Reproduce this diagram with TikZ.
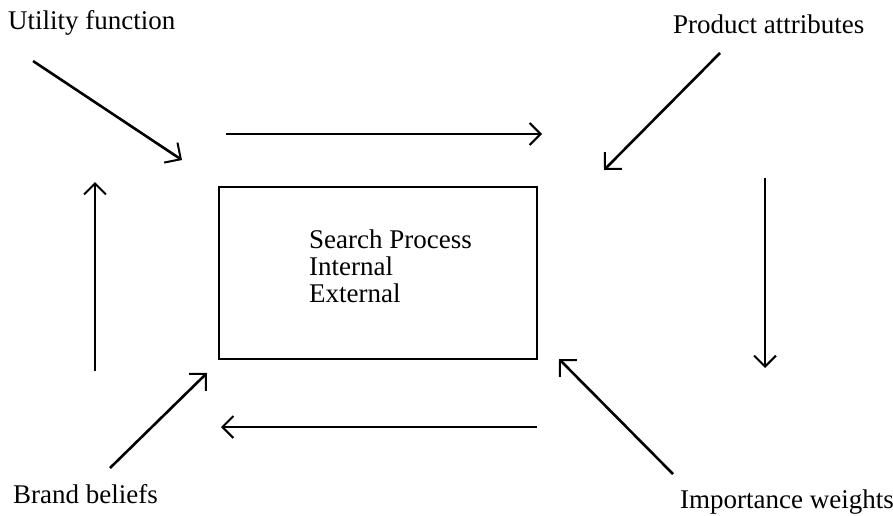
\documentclass[tikz,border=0pt]{standalone}
\usepackage{fontspec}
\setmainfont{Liberation Serif}
\usetikzlibrary{arrows.meta}
\begin{document}
\begin{tikzpicture}[x=1pt,y=-1pt,
  lbl/.style={inner sep=0pt,anchor=base west,font=\fontsize{27}{30}\selectfont},
  conn/.style={line width=2.6pt,-{Straight Barb[length=12pt,width=24pt,line width=2pt]}},
  straightconn/.style={line width=2pt,-{Straight Barb[length=11pt,width=22pt,line width=2pt]}}]
\useasboundingbox (0,0) rectangle (893,515);
\node[lbl] (uf) at (8,29) {Utility function};
\node[lbl] (pa) at (673,33) {Product attributes};
\node[lbl] (bb) at (13,503) {Brand beliefs};
\node[lbl] (iw) at (680,508) {Importance weights};
\node[draw,line width=2pt,minimum width=318pt,minimum height=172pt,anchor=north west,inner sep=0pt] (box) at (218,186) {};
\node[lbl] (sp) at (309,248) {Search Process};
\node[lbl] (in) at (309,275) {Internal};
\node[lbl] (ex) at (309,302) {External};
\coordinate (a1s) at (33,61);  \coordinate (a1e) at (182,160);
\coordinate (a2s) at (226,134); \coordinate (a2e) at (542,134);
\coordinate (a3s) at (720,53);  \coordinate (a3e) at (604,170);
\coordinate (a4s) at (765,178); \coordinate (a4e) at (765,368);
\coordinate (a5s) at (673,474); \coordinate (a5e) at (559,359);
\coordinate (a6s) at (537,427); \coordinate (a6e) at (221,427);
\coordinate (a7s) at (110,468); \coordinate (a7e) at (207,373);
\coordinate (a8s) at (95,371);  \coordinate (a8e) at (95,182);
\draw[conn] (a1s) -- (a1e);
\draw[straightconn] (a2s) -- (a2e);
\draw[conn] (a3s) -- (a3e);
\draw[straightconn] (a4s) -- (a4e);
\draw[conn] (a5s) -- (a5e);
\draw[straightconn] (a6s) -- (a6e);
\draw[conn] (a7s) -- (a7e);
\draw[straightconn] (a8s) -- (a8e);
\end{tikzpicture}
\end{document}
